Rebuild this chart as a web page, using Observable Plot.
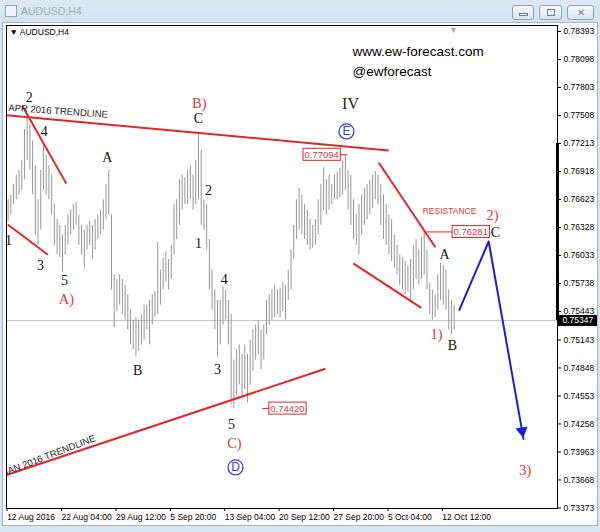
<!DOCTYPE html>
<html>
<head>
<meta charset="utf-8">
<script src="https://cdn.jsdelivr.net/npm/d3@7"></script>
<script src="https://cdn.jsdelivr.net/npm/@observablehq/plot@0.6"></script>
<style>
html,body{margin:0;padding:0;}
body{width:600px;height:532px;overflow:hidden;position:relative;background:#d9e5f2;font-family:"Liberation Sans",Arial,sans-serif;}
#titlebar{position:absolute;left:0;top:0;width:600px;height:22px;background:linear-gradient(#dde8f4,#d4e2f0);}
#icon{position:absolute;left:5px;top:5px;width:10px;height:10px;border:1px solid #8fa6bf;background:#eef3f9;}
#title{position:absolute;left:21px;top:5px;font-size:10.5px;color:#a3adb8;}
.btn{position:absolute;top:5px;height:15px;border:1px solid #8ea2b8;border-radius:3px;background:linear-gradient(#f7fafd,#dbe5f0);box-sizing:border-box;}
.glyph{position:absolute;border:1px solid #6f7f90;box-sizing:border-box;}
#panel{position:absolute;left:2px;top:22px;width:596px;height:504px;background:#fff;border:1px solid #a6b4c3;box-sizing:border-box;}
#chart{position:absolute;left:0;top:22px;}
</style>
</head>
<body>
<div id="titlebar">
  <div id="icon"></div>
  <div id="title">AUDUSD,H4</div>
  <div class="btn" style="left:512px;width:22px"><div class="glyph" style="left:6px;top:7px;width:9px;height:3px"></div></div>
  <div class="btn" style="left:539px;width:23px"><div class="glyph" style="left:7px;top:3px;width:8px;height:7px"></div></div>
  <div class="btn" style="left:567px;width:27px;font-size:10px;color:#6f7f90;text-align:center;line-height:13px">&#x2715;</div>
</div>
<div id="panel"></div>
<div id="chart"></div>
<script>
// ---- price bars (H4), one high/low per bar ----
const barHigh = [0.7662,0.7667,0.7678,0.7688,0.7693,0.7703,0.7736,0.7753,0.7741,0.7724,
0.7698,0.7662,0.7693,0.7721,0.7709,0.7698,0.7688,0.7657,0.7641,0.7635,
0.7625,0.7635,0.7646,0.7651,0.7657,0.7659,0.7646,0.7635,0.7630,0.7635,
0.7639,0.7635,0.7641,0.7646,0.7651,0.7662,0.7678,0.7693,0.7646,0.7583,
0.7578,0.7583,0.7578,0.7572,0.7562,0.7546,0.7535,0.7538,0.7535,0.7541,
0.7551,0.7551,0.7556,0.7562,0.7565,0.7617,0.7588,0.7601,0.7607,0.7599,
0.7614,0.7657,0.7662,0.7683,0.7688,0.7685,0.7693,0.7698,0.7688,0.7703,
0.7731,0.7714,0.7662,0.7657,0.7620,0.7588,0.7567,0.7556,0.7556,0.7570,
0.7567,0.7556,0.7541,0.7493,0.7504,0.7509,0.7499,0.7509,0.7499,0.7514,
0.7525,0.7530,0.7535,0.7525,0.7530,0.7556,0.7562,0.7567,0.7572,0.7567,
0.7569,0.7575,0.7572,0.7588,0.7609,0.7635,0.7662,0.7674,0.7667,0.7657,
0.7651,0.7641,0.7635,0.7641,0.7662,0.7678,0.7696,0.7683,0.7688,0.7678,
0.7688,0.7691,0.7695,0.7703,0.7709,0.7693,0.7688,0.7662,0.7646,0.7657,
0.7667,0.7674,0.7678,0.7683,0.7688,0.7692,0.7688,0.7678,0.7667,0.7657,
0.7646,0.7641,0.7625,0.7614,0.7604,0.7601,0.7597,0.7593,0.7599,0.7614,
0.7620,0.7609,0.7622,0.7628,0.7609,0.7574,0.7567,0.7562,0.7583,0.7595,
0.7593,0.7588,0.7567,0.7556,0.7551];
const barLow = [0.7639,0.7646,0.7657,0.7662,0.7667,0.7672,0.7683,0.7703,0.7693,0.7667,
0.7625,0.7614,0.7630,0.7672,0.7667,0.7662,0.7646,0.7614,0.7604,0.7601,
0.7585,0.7604,0.7614,0.7625,0.7630,0.7635,0.7614,0.7604,0.7590,0.7609,
0.7614,0.7599,0.7609,0.7620,0.7625,0.7630,0.7641,0.7646,0.7567,0.7527,
0.7544,0.7551,0.7541,0.7535,0.7525,0.7509,0.7504,0.7497,0.7502,0.7509,
0.7514,0.7525,0.7509,0.7530,0.7538,0.7541,0.7551,0.7567,0.7575,0.7567,
0.7578,0.7604,0.7620,0.7635,0.7651,0.7657,0.7657,0.7662,0.7651,0.7657,
0.7662,0.7635,0.7630,0.7609,0.7567,0.7546,0.7525,0.7496,0.7509,0.7530,
0.7535,0.7509,0.7446,0.7442,0.7456,0.7467,0.7453,0.7462,0.7448,0.7467,
0.7481,0.7493,0.7499,0.7483,0.7493,0.7520,0.7530,0.7535,0.7538,0.7541,
0.7538,0.7544,0.7535,0.7556,0.7567,0.7599,0.7620,0.7630,0.7625,0.7620,
0.7614,0.7609,0.7611,0.7614,0.7625,0.7635,0.7651,0.7646,0.7651,0.7657,
0.7662,0.7662,0.7664,0.7667,0.7672,0.7651,0.7635,0.7620,0.7614,0.7604,
0.7625,0.7635,0.7641,0.7646,0.7653,0.7662,0.7657,0.7635,0.7620,0.7614,
0.7604,0.7597,0.7590,0.7583,0.7572,0.7567,0.7562,0.7565,0.7556,0.7567,
0.7578,0.7572,0.7578,0.7583,0.7567,0.7541,0.7535,0.7538,0.7546,0.7556,
0.7551,0.7546,0.7525,0.7520,0.7525];
const lastPrice = 0.75347;

// ---- axes ----
const xTickIndex = [0,20,40,60,80,100,120,140,160];
const xTickLabels = ["12 Aug 2016","22 Aug 04:00","29 Aug 12:00","5 Sep 20:00","13 Sep 04:00","20 Sep 12:00","27 Sep 20:00","5 Oct 04:00","12 Oct 12:00"];
const yTickValues = [0.78393,0.78098,0.77803,0.77508,0.77213,0.76918,0.76623,0.76328,0.76033,0.75738,0.75443,0.75143,0.74848,0.74553,0.74258,0.73963,0.73668,0.73373];

// ---- Elliott wave labels (black) ----
const waveText = ["2","4","1","3","5","A","B","C","2","1","4","3","5","A","B","C"];
const waveX    = [7.8,13.3,0.1,11.9,20.7,36.5,47.6,70.0,73.7,70.0,79.5,77.0,82.1,160.5,163.4,179.2];
const waveY    = [0.7770,0.7734,0.7619,0.7593,0.7577,0.7707,0.7482,0.7748,0.7672,0.7616,0.7578,0.7483,0.7425,0.7604,0.7508,0.7628];
// ---- red degree labels ----
const redText = ["A)","B)","C)","1)","2)","3)"];
const redX    = [21.4,70.3,83.2,157.5,178.1,190.2];
const redY    = [0.7557,0.7764,0.7405,0.7520,0.7646,0.7377];
// ---- circled labels ----
const circText = ["D","E"];
const circX    = [83.6,124.4];
const circY    = [0.7380,0.7734];
// ---- trend lines ----
const lineX1 = [-0.6,5.2,-0.15,-0.6,136.3,126.9];
const lineY1 = [0.7751,0.7761,0.7636,0.7372,0.7701,0.7595];
const lineX2 = [139.9,21.4,14.6,116.7,157.1,151.9];
const lineY2 = [0.7714,0.7679,0.7604,0.7484,0.7612,0.7548];
// ---- projected path ----
const projX = [165.9,176.7,189.5];
const projY = [0.7546,0.7618,0.7410];
// ---- price labels ----
const priceText = ["0.77094","0.76281","0.74420"];
const priceValue = [0.77094,0.76281,0.74420];
const priceLabelX = [115.3,170.1,102.7];
const connX1 = [121.9,153.3,93.4];
const connX2 = [124.7,163.7,96.4];

const bars = barHigh.map((h, i) => ({i, high: h, low: barLow[i]}));
const waves = waveText.map((t, k) => ({t, x: waveX[k], y: waveY[k]}));
const reds = redText.map((t, k) => ({t, x: redX[k], y: redY[k]}));
const circs = circText.map((t, k) => ({t, x: circX[k], y: circY[k]}));
const lines = lineX1.map((x1, k) => ({x1, y1: lineY1[k], x2: lineX2[k], y2: lineY2[k]}));
const proj = projX.map((x, k) => ({x, y: projY[k]}));
const prices = priceText.map((t, k) => ({t, v: priceValue[k], x: priceLabelX[k], x1: connX1[k], x2: connX2[k]}));
const n = proj.length;
const arrowTip = {x: proj[n-1].x - 0.04 * (proj[n-1].x - proj[n-2].x), y: proj[n-1].y - 0.04 * (proj[n-1].y - proj[n-2].y)};

const RED = "#e3262b", RED_T = "#e23a3a", BLUE = "#1c1cdc", CBLUE = "#3b3bd8";
const xMax = 202;

const chart = Plot.plot({
  width: 600, height: 510,
  marginLeft: 6, marginRight: 43, marginTop: 3, marginBottom: 24,
  x: {domain: [-0.6, xMax]},
  y: {domain: [0.73367, 0.78456]},
  style: {background: "transparent", fontFamily: "Liberation Sans, Arial, sans-serif", fontSize: "8.5px", color: "#000"},
  marks: [
    Plot.ruleY([lastPrice], {stroke: "#c4c4c4", strokeWidth: 1}),
    Plot.ruleX(bars, {x: "i", y1: "low", y2: "high", stroke: "#969696", strokeWidth: 1}),
    Plot.link(lines, {x1: "x1", y1: "y1", x2: "x2", y2: "y2", stroke: RED, strokeWidth: 2, clip: "frame"}),
    Plot.link(prices, {x1: "x1", x2: "x2", y1: "v", y2: "v", stroke: RED, strokeWidth: 1}),
    Plot.text(prices, {x: "x", y: "v", text: "t", fill: RED_T, fontSize: 9.5}),
    Plot.line(proj, {x: "x", y: "y", stroke: BLUE, strokeWidth: 2}),
    Plot.dot([arrowTip], {x: "x", y: "y", symbol: "triangle", r: 3.6, fill: BLUE, stroke: BLUE, rotate: 170}),
    Plot.text(waves, {x: "x", y: "y", text: "t", fontFamily: "Liberation Serif, Times New Roman, serif", fontSize: 14, fill: "#111"}),
    Plot.text(["IV"], {x: 125.9, y: 0.7763, fontFamily: "Liberation Serif, Times New Roman, serif", fontSize: 16, fill: "#222"}),
    Plot.text(reds, {x: "x", y: "y", text: "t", fontFamily: "Liberation Serif, Times New Roman, serif", fontSize: 14.5, fill: RED_T}),
    Plot.dot(circs, {x: "x", y: "y", r: 7.5, stroke: CBLUE, strokeWidth: 1.3, fill: "none"}),
    Plot.text(circs, {x: "x", y: "y", text: "t", fontSize: 12, fill: CBLUE}),
    Plot.text(["APR 2016 TRENDLINE"], {x: 0.1, y: 0.7759, textAnchor: "start", rotate: 4, fontSize: 9.5, fill: "#222"}),
    Plot.text(["JAN 2016 TRENDLINE"], {x: -1.7, y: 0.7374, textAnchor: "start", rotate: -21, fontSize: 9.5, fill: "#222", clip: "frame"}),
    Plot.text(["RESISTANCE"], {x: 162.3, y: 0.7650, fontSize: 8.5, fill: RED_T}),
    Plot.text(["www.ew-forecast.com"], {x: 126.6, y: 0.7818, textAnchor: "start", fontSize: 13.5, fill: "#000"}),
    Plot.text(["@ewforecast"], {x: 126.6, y: 0.7797, textAnchor: "start", fontSize: 13.5, fill: "#000"}),
    Plot.text(["\u25BC AUDUSD,H4"], {frameAnchor: "top-left", dx: 3, dy: 3, fontSize: 8.5, fill: "#000"}),
    Plot.text(["\u25BC"], {x: 163.7, frameAnchor: "top", dy: 1, fontSize: 9, fill: "#a8a8a8"}),
    Plot.frame({stroke: "#000"}),
    Plot.ruleX([xMax], {y1: 0.77213, y2: lastPrice, stroke: "#000", strokeWidth: 3}),
    Plot.axisY({anchor: "right", ticks: yTickValues, tickFormat: d3.format(".5f"), tickSize: 3, tickPadding: 3, fontSize: 8.5, label: null}),
    Plot.axisX({ticks: xTickIndex, tickFormat: d => xTickLabels[xTickIndex.indexOf(d)], tickSize: 3, tickPadding: 2, textAnchor: "start", dx: -1, fontSize: 8.5, label: null}),
    Plot.ruleY([lastPrice], {stroke: "#000", strokeWidth: 11, insetLeft: 552, insetRight: -40}),
    Plot.text([lastPrice], {y: d => d, text: d => d3.format(".5f")(d), frameAnchor: "right", textAnchor: "start", dx: 5, fill: "#fff", fontSize: 8.5})
  ]
});
document.getElementById("chart").append(chart);

// draw boxes behind the price labels (found by their text)
Array.from(chart.querySelectorAll("text"))
  .filter(t => priceText.includes(t.textContent.trim()))
  .forEach(t => {
    const bb = t.getBBox();
    const r = document.createElementNS("http://www.w3.org/2000/svg", "rect");
    r.setAttribute("x", bb.x - 1.5);
    r.setAttribute("y", bb.y - 0.5);
    r.setAttribute("width", bb.width + 3);
    r.setAttribute("height", bb.height + 1);
    const tr = t.getAttribute("transform");
    if (tr) r.setAttribute("transform", tr);
    r.setAttribute("fill", "#fff");
    r.setAttribute("stroke", RED);
    r.setAttribute("stroke-width", "1");
    t.parentNode.insertBefore(r, t);
  });
</script>
</body>
</html>
